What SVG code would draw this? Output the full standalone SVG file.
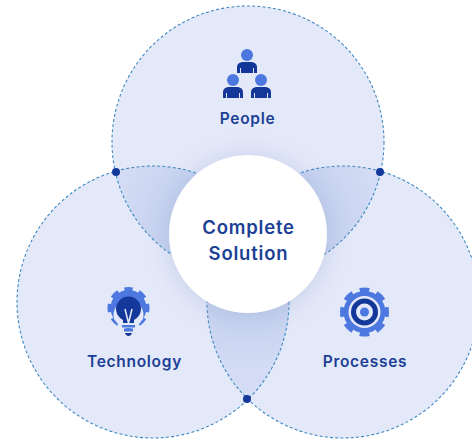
<svg xmlns="http://www.w3.org/2000/svg" width="472" height="440" viewBox="0 0 472 440">
<style>
.c{fill:#e4e9f9}
.o{fill:none;stroke:#3f88c2;stroke-width:1.100;stroke-dasharray:3 2.200}
.d{fill:#14379a}
.b{fill:#4d78e0}
.t{font-family:"Inter","Liberation Sans",sans-serif;font-weight:600;fill:#1c3f96;text-anchor:middle}
.l{font-size:15.500px;letter-spacing:0.700px}
.m{font-size:18.500px;letter-spacing:0.800px}
.w{fill:#e4e9f9}
.g{fill:none;stroke:#4d78e0;stroke-width:5;stroke-dasharray:5.600 4.400;stroke-dashoffset:2.800}
</style>
<defs>
<clipPath id="ct"><circle cx="248" cy="142" r="136"/></clipPath>
<clipPath id="cl"><circle cx="153" cy="302" r="136"/></clipPath>
<radialGradient id="lens" gradientUnits="userSpaceOnUse" cx="248" cy="234" r="135">
<stop offset="0.55" stop-color="#c3d0ee"/><stop offset="1" stop-color="#d3dcf4"/>
</radialGradient>
<filter id="blur" x="-40%" y="-40%" width="180%" height="180%"><feGaussianBlur stdDeviation="12"/></filter>
</defs>
<g id="circle-fills">
<circle class="c" cx="248" cy="142" r="136"/>
<circle class="c" cx="153" cy="302" r="136"/>
<circle class="c" cx="343" cy="302" r="136"/>
<g clip-path="url(#ct)"><circle cx="153" cy="302" r="136" fill="url(#lens)"/></g>
<g clip-path="url(#ct)"><circle cx="343" cy="302" r="136" fill="url(#lens)"/></g>
<g clip-path="url(#cl)"><circle cx="343" cy="302" r="136" fill="url(#lens)"/></g>
</g>
<g id="connectors">
<circle class="o" cx="248" cy="142" r="136"/>
<circle class="o" cx="153" cy="302" r="136"/>
<circle class="o" cx="343" cy="302" r="136"/>
<circle class="d" cx="116" cy="172" r="4"/>
<circle class="d" cx="380" cy="172" r="4"/>
<circle class="d" cx="247" cy="399" r="4"/>
</g>
<g id="center">
<circle cx="248" cy="236" r="80" fill="#9aa8d0" opacity="0.4" filter="url(#blur)"/>
<circle cx="248" cy="234" r="79" fill="#fff"/>
<text class="t m" x="248.500" y="234">Complete</text>
<text class="t m" x="248.500" y="260">Solution</text>
</g>
<g id="people">
<circle class="b" cx="247" cy="55" r="6"/>
<circle class="b" cx="233" cy="80" r="6"/>
<circle class="b" cx="261" cy="80" r="6"/>
<path class="d" d="M237 73v-6q0-4 5-5h10q5 1 5 5v6h-3v-5h-1v5h-12v-5h-1v5z"/>
<path class="d" d="M223 98v-6q0-4 5-5h10q5 1 5 5v6h-3v-5h-1v5h-12v-5h-1v5z"/>
<path class="d" d="M251 98v-6q0-4 5-5h10q5 1 5 5v6h-3v-5h-1v5h-12v-5h-1v5z"/>
<text class="t l" x="247.500" y="124">People</text>
</g>
<g id="technology">
<circle class="g" cx="128.500" cy="308" r="18.500" pathLength="80"/>
<circle class="b" cx="128.500" cy="308" r="18"/>
<path class="w" d="M121 328h15l7-9a15 15 0 1 0-29 0z"/>
<path class="d" d="M123 323v-3q-7-4-7-11a12.500 12.500 0 0 1 25 0q0 7-7 11v3z"/>
<path d="M125 309l3.500 14M132 309l-3.500 14" fill="none" stroke="#e4e9f9" stroke-width="1.500"/>
<path class="b" d="M122 325h13v2.500h-13zM124 329h9v2.500h-9z"/>
<path class="d" d="M125 333h7q-1 3-3.500 3t-3.500-3z"/>
<text class="t l" x="134.500" y="367">Technology</text>
</g>
<g id="processes">
<circle class="g" cx="364.500" cy="312" r="22" pathLength="80"/>
<circle class="b" cx="364.500" cy="312" r="21"/>
<circle class="w" cx="364.500" cy="312" r="16"/>
<circle class="d" cx="364.500" cy="312" r="13.500"/>
<circle class="w" cx="364.500" cy="312" r="8.500"/>
<circle class="b" cx="364.500" cy="312" r="4.500"/>
<text class="t l" x="365" y="367">Processes</text>
</g>
</svg>
